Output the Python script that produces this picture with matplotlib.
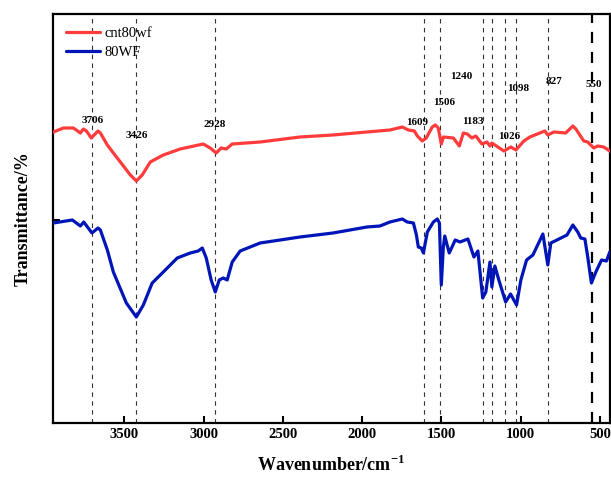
import matplotlib.pyplot as plt

plt.rcParams.update({
    "font.family": ["Liberation Serif", "DejaVu Serif"],
    "font.weight": "bold",
    "mathtext.fontset": "custom",
    "mathtext.rm": "Liberation Serif",
    "mathtext.bf": "Liberation Serif:bold",
})

# wavenumbers (cm-1) and transmittance (arbitrary units)
wn_red = [3947, 3884, 3821, 3777, 3758, 3739, 3708, 3666, 3651, 3607, 3569, 3525,
          3462, 3424, 3387, 3336, 3254, 3147, 3002, 2958, 2920, 2889, 2857, 2819,
          2643, 2391, 2183, 1969, 1824, 1746, 1708, 1670, 1651, 1620, 1595, 1557,
          1538, 1519, 1500, 1487, 1424, 1386, 1361, 1336, 1307, 1282, 1244, 1212,
          1193, 1181, 1143, 1105, 1061, 1029, 979, 941, 847, 828, 790, 715, 670,
          651, 601, 576, 538, 513, 475, 437]
t_red = [291, 295, 295, 290, 294, 292, 285, 292, 290, 278, 270, 261,
         248, 242, 248, 261, 268, 274, 279, 275, 270, 275, 274, 279,
         281, 286, 288, 291, 293, 296, 293, 292, 287, 282, 285, 296,
         298, 295, 279, 286, 285, 277, 290, 289, 285, 287, 279, 281,
         277, 280, 276, 272, 276, 273, 282, 286, 292, 288, 291, 290, 297,
         294, 282, 281, 275, 277, 276, 272]

wn_blue = [3947, 3828, 3777, 3756, 3704, 3666, 3651, 3607, 3569, 3487, 3424, 3380,
           3324, 3254, 3166, 3084, 3034, 3008, 2983, 2952, 2926, 2901, 2876, 2851,
           2819, 2769, 2643, 2517, 2391, 2183, 1969, 1887, 1824, 1746, 1715, 1676,
           1657, 1645, 1626, 1613, 1588, 1550, 1525, 1512, 1500, 1487, 1478, 1450,
           1412, 1382, 1332, 1294, 1269, 1239, 1219, 1193, 1181, 1162, 1137, 1094,
           1063, 1025, 998, 962, 922, 859, 828, 809, 783, 707, 670, 639, 620, 594,
           576, 553, 525, 489, 458, 437]
t_blue = [200, 203, 197, 201, 190, 195, 193, 173, 151, 120, 106, 118,
          140, 151, 165, 170, 172, 175, 165, 143, 131, 143, 145, 143,
          161, 172, 180, 183, 186, 190, 196, 197, 201, 204, 201, 200,
          188, 176, 175, 170, 191, 201, 204, 200, 138, 176, 187, 170,
          183, 181, 184, 166, 172, 125, 131, 161, 136, 157, 143, 121,
          129, 118, 143, 163, 168, 189, 158, 180, 182, 188, 198, 191, 185, 184,
          166, 140, 151, 163, 162, 171]

peaks = [3706, 3426, 2928, 1609, 1506, 1240, 1183, 1098, 1026, 827, 550]
# label anchor (wavenumber, transmittance) for each peak text
label_wn = [3700, 3424, 2927, 1651, 1481, 1374, 1299, 1016, 1073, 790, 538]
label_t = [302, 287, 298, 300, 320, 346, 301, 334, 286, 341, 338]

RED = "#ff3b3b"
BLUE = "#0015b8"

fig = plt.figure(figsize=(6.11, 4.79), dpi=100)
ax = fig.add_axes([0.0867, 0.1169, 0.9113, 0.8539])

for p in peaks:
    if p == 550:
        ax.axvline(p, color="black", lw=1.6, ls=(0, (5, 4)), zorder=1)
    else:
        ax.axvline(p, color="#333333", lw=0.8, ls=(0, (4, 4)), zorder=1)

ax.plot(wn_red, t_red, color=RED, lw=2.3, label="cnt80wf", zorder=3,
        solid_joinstyle="round", solid_capstyle="round")
ax.plot(wn_blue, t_blue, color=BLUE, lw=2.3, label="80WF", zorder=3,
        solid_joinstyle="round", solid_capstyle="round")

for p, x, y in zip(peaks, label_wn, label_t):
    ax.text(x, y, str(p), fontsize=8, fontweight="bold", ha="center", va="center", zorder=4)

ax.set_xlim(3950, 437)
ax.set_ylim(0, 409)
ax.set_xticks([3500, 3000, 2500, 2000, 1500, 1000, 500])
ax.set_yticks([203])
ax.set_yticklabels([])
ax.tick_params(axis="both", direction="in", width=1.5, length=5, labelsize=10.5)
for lab in ax.get_xticklabels():
    lab.set_fontweight("bold")
for s in ax.spines.values():
    s.set_linewidth(1.6)

ax.set_xlabel(r"Wavenumber/cm$^{\mathbf{-1}}$", fontsize=13, fontweight="bold", labelpad=10)
ax.set_ylabel("Transmittance/%", fontsize=13, fontweight="bold", labelpad=12)

leg = ax.legend(loc="upper left", frameon=False, handlelength=2.3,
                handletextpad=0.3, borderaxespad=0.5, labelspacing=0.35,
                prop={"family": "Liberation Serif", "weight": "normal", "size": 10.5})

fig.savefig("out.png", dpi=100)
